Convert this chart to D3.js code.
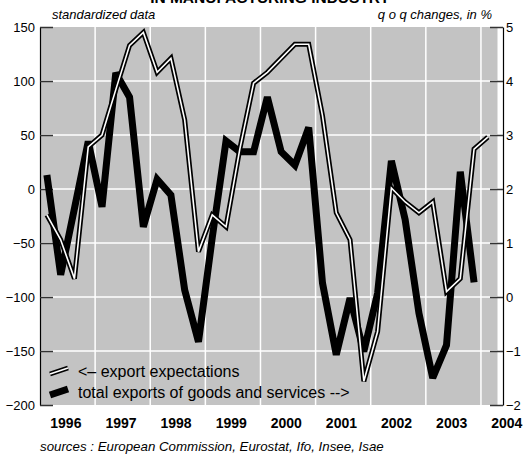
<!DOCTYPE html>
<html><head><meta charset="utf-8">
<script src="https://cdn.jsdelivr.net/npm/d3@7/dist/d3.min.js"></script>
<style>
body{margin:0;background:#fff}
svg{display:block}
text{font-family:"Liberation Sans",Arial,Helvetica,sans-serif;fill:#000}
</style>
</head><body>
<svg id="chart" width="527" height="460"></svg>
<script>
// ---- data ----
const years = [1996, 1997, 1998, 1999, 2000, 2001, 2002, 2003, 2004];
const quarters = years.flatMap(y => [1, 2, 3, 4].map(q => `${y}Q${q}`));
// export expectations, standardized data (left axis), 1996Q1..2004Q1
const exportExpectations = [
  -24, -47, -83, 39, 50, 92, 133, 145,
  108, 121, 64, -58, -24, -35, 37, 98,
  108, 121, 134, 134, 68, -22, -47, -178,
  -132, 1, -12, -22, -12, -95, -83, 37,
  48
];
// total exports of goods and services, q o q changes in % (right axis), 1996Q1..2003Q4
const totalExports = [
  2.26, 0.41, 1.64, 2.88, 1.67, 4.15, 3.70, 1.30,
  2.18, 1.89, 0.13, -0.83, 1.10, 2.89, 2.69, 2.69,
  3.70, 2.69, 2.44, 3.14, 0.26, -1.07, -0.02, -1.01,
  0.07, 2.52, 1.43, -0.30, -1.50, -0.89, 2.32, 0.27
];
const leftTicks = [150, 100, 50, 0, -50, -100, -150, -200];
const rightTicks = [5, 4, 3, 2, 1, 0, -1, -2];
const title = "IN MANUFACTURING INDUSTRY";
const leftUnit = "standardized data";
const rightUnit = "q o q changes, in %";
const legendLabels = ["<\u2013 export expectations", "total exports of goods and services -->"];
const sourceText = "sources : European Commission, Eurostat, Ifo, Insee, Isae";

// ---- layout ----
const svg = d3.select("#chart");
const L = 40, R = 503, T = 27, B = 405;
const toT = s => +s.slice(0, 4) + (+s.slice(5) - 0.5) / 4;

const x = d3.scaleLinear().domain([1996, 2004.4]).range([L, R]);
const yL = d3.scaleLinear().domain([-200, 150]).range([B, T]);
const yR = d3.scaleLinear().domain([-2, 5]).range([B, T]);

// plot background
svg.append("rect").attr("x", L + 1).attr("y", T)
  .attr("width", x(2004.3) - L - 1).attr("height", B - T).attr("fill", "#c3c3c3");

// grid
const g = svg.append("g");
g.selectAll(".hg").data(leftTicks.filter(v => v > -200 && v < 150)).join("line")
  .attr("x1", L + 1).attr("x2", x(2004.3)).attr("y1", d => yL(d)).attr("y2", d => yL(d))
  .attr("stroke", "#fff").attr("stroke-width", 1.5);
g.selectAll(".vg").data(years.slice(1)).join("line")
  .attr("x1", d => x(d)).attr("x2", d => x(d)).attr("y1", T).attr("y2", B)
  .attr("stroke", "#fff").attr("stroke-width", 1.5);

// axes
const axL = svg.append("g").attr("transform", `translate(${L},0)`)
  .call(d3.axisLeft(yL).tickValues(leftTicks).tickFormat(d3.format("d"))
    .tickSizeInner(-13).tickSizeOuter(0).tickPadding(5));
const axR = svg.append("g").attr("transform", `translate(${R},0)`)
  .call(d3.axisRight(yR).tickValues(rightTicks).tickFormat(d3.format("d"))
    .tickSizeInner(-13).tickSizeOuter(0).tickPadding(3));
[axL, axR].forEach(a => {
  a.select(".domain").attr("stroke", "#000").attr("stroke-width", 1.2);
  a.selectAll(".tick line").attr("stroke", "#333").attr("stroke-width", 1.5);
  a.selectAll(".tick text").style("font-size", "13px").attr("fill", "#000")
    .style("font-family", '"Liberation Sans",Arial,sans-serif');
});

const axB = svg.append("g").attr("transform", `translate(0,${B})`)
  .call(d3.axisBottom(x).tickValues(years.map(y => y + 0.46)).tickFormat(d => Math.floor(d))
    .tickSize(0).tickPadding(13));
axB.select(".domain").remove();
axB.selectAll(".tick text").style("font-size", "14px").style("font-weight", "bold")
  .style("font-family", '"Liberation Sans",Arial,sans-serif');

// lines
const blackLine = d3.line().x((d, i) => x(toT(quarters[i]))).y(d => yR(d));
const whiteLine = d3.line().x((d, i) => x(toT(quarters[i]))).y(d => yL(d));

svg.append("path").datum(totalExports).attr("d", blackLine)
  .attr("fill", "none").attr("stroke", "#000").attr("stroke-width", 7)
  .attr("stroke-linejoin", "miter").attr("stroke-miterlimit", 3);
svg.append("path").datum(exportExpectations).attr("d", whiteLine)
  .attr("fill", "none").attr("stroke", "#000").attr("stroke-width", 5)
  .attr("stroke-linejoin", "miter").attr("stroke-miterlimit", 3);
svg.append("path").datum(exportExpectations).attr("d", whiteLine)
  .attr("fill", "none").attr("stroke", "#fff").attr("stroke-width", 1.6)
  .attr("stroke-linejoin", "miter").attr("stroke-miterlimit", 3);

// legend
const lg = svg.append("g");
const ly = [371, 392];
lg.append("line").attr("x1", 50).attr("y1", ly[0] + 3).attr("x2", 68).attr("y2", ly[0] - 3)
  .attr("stroke", "#000").attr("stroke-width", 5);
lg.append("line").attr("x1", 50).attr("y1", ly[0] + 3).attr("x2", 68).attr("y2", ly[0] - 3)
  .attr("stroke", "#fff").attr("stroke-width", 1.6);
lg.append("line").attr("x1", 50).attr("y1", ly[1] + 3).attr("x2", 68).attr("y2", ly[1] - 3)
  .attr("stroke", "#000").attr("stroke-width", 7);
lg.selectAll("text").data(legendLabels).join("text")
  .attr("x", 78).attr("y", (d, i) => ly[i]).attr("dy", "0.35em")
  .style("font-size", "16px").text(d => d);

// texts
svg.append("text").attr("x", 270).attr("y", 3).attr("text-anchor", "middle")
  .style("font-size", "15.5px").style("font-weight", "bold").text(title);
svg.append("text").attr("x", 52).attr("y", 19).style("font-size", "13px")
  .style("font-style", "italic").text(leftUnit);
svg.append("text").attr("x", 492).attr("y", 19).attr("text-anchor", "end")
  .style("font-size", "13px").style("font-style", "italic").text(rightUnit);
svg.append("text").attr("x", 40).attr("y", 451).style("font-size", "13.3px")
  .style("font-style", "italic").text(sourceText);
</script>
</body></html>
